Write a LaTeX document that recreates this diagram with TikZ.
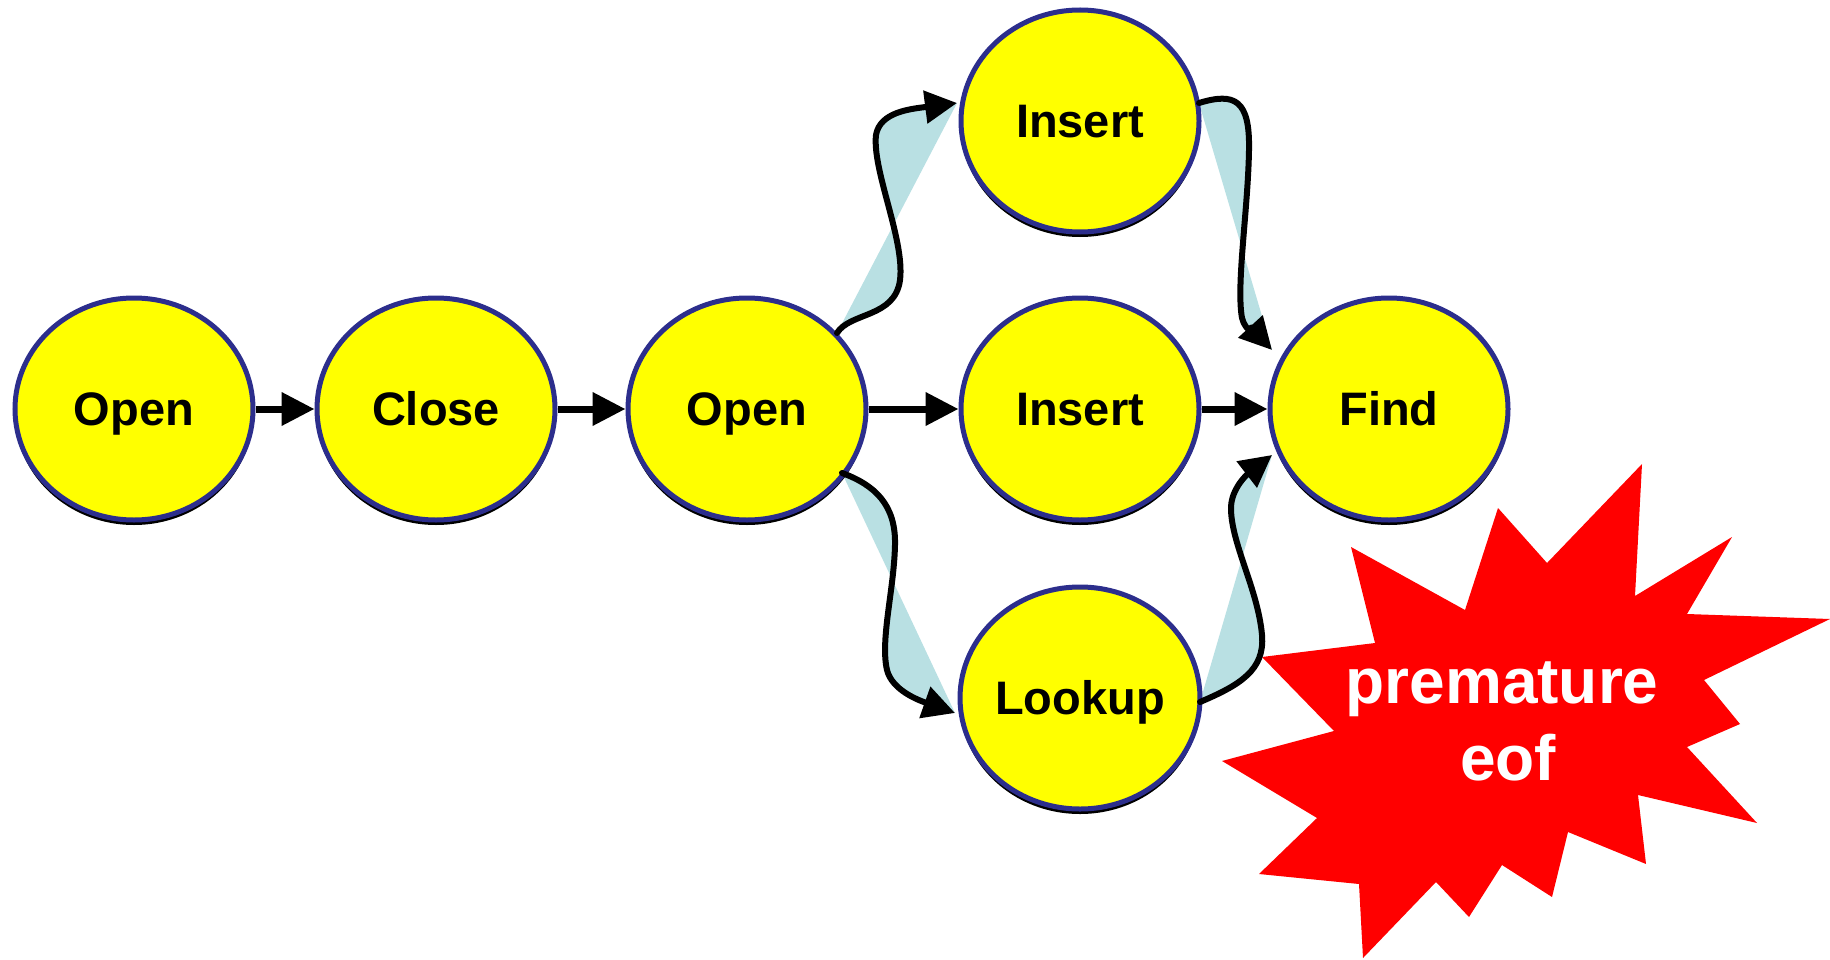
\documentclass[tikz,border=0pt]{standalone}
\usepackage{fontspec}
\setmainfont{Liberation Sans}
\usetikzlibrary{arrows.meta,shapes.geometric,shadows,backgrounds,calc}
\definecolor{ellblue}{RGB}{44,46,140}
\definecolor{stateyellow}{RGB}{255,255,0}
\definecolor{chordblue}{RGB}{185,224,227}
\definecolor{burstred}{RGB}{255,0,0}
\begin{document}
\begin{tikzpicture}[x=1pt,y=-1pt,
  state/.style={ellipse, draw=ellblue, line width=5pt, fill=stateyellow,
    minimum width=238pt, minimum height=222pt, inner sep=0pt,
    font=\fontsize{47}{50}\selectfont\bfseries, text height=33pt, text depth=0pt,
    drop shadow={shadow xshift=0pt, shadow yshift=-5pt, fill=black, opacity=1}},
  conn/.style={line width=7pt, -{Triangle[length=33pt,width=32pt]}},
  wave/.style={line width=6pt, line cap=round, -{Triangle[length=32pt,width=32pt]}},
  chord/.style={fill=chordblue}]
\useasboundingbox (0,0) rectangle (1830,960);

% states
\node[state] (o1) at (134,409) {Open};
\node[state] (cl) at (436,409) {Close};
\node[state] (o2) at (747,409) {Open};
\node[state] (i1) at (1080,121) {Insert};
\node[state] (i2) at (1080,409) {Insert};
\node[state] (lk) at (1080,698) {Lookup};
\node[state] (fd) at (1389,409) {Find};

% end points of the wavy connectors
\coordinate (s1) at ($(o2)+(90,-76)$);
\coordinate (e1) at ($(i1)+(-123,-18)$);
\coordinate (s2) at ($(i1)+(119,-18)$);
\coordinate (e2) at ($(fd)+(-117,-59)$);
\coordinate (s3) at ($(o2)+(95,64)$);
\coordinate (e3) at ($(lk)+(-125,15)$);
\coordinate (s4) at ($(lk)+(120,4)$);
\coordinate (e4) at ($(fd)+(-117,46)$);

\begin{scope}[on background layer]
  \fill[white] (0,0) rectangle (1830,960);
  \fill[burstred] (1642,464) -- (1635,596) -- (1732,537) -- (1687,614) -- (1830,619)
    -- (1704,680) -- (1740,724) -- (1687,747) -- (1757,823) -- (1638,795)
    -- (1646,864) -- (1568,832) -- (1552,897) -- (1502,865) -- (1469,917)
    -- (1436,882) -- (1363,958) -- (1359,884) -- (1259,874) -- (1317,818)
    -- (1222,761) -- (1334,731) -- (1262,657) -- (1375,643) -- (1351,547)
    -- (1465,610) -- (1498,508) -- (1547,563) -- cycle;
  \fill[chord] (s1) .. controls (850,312) and (895,318) .. (900,280)
    .. controls (905,240) and (872,170) .. (876,135)
    .. controls (880,112) and (910,109) .. (e1) -- cycle;
  \fill[chord] (s2) .. controls (1235,92) and (1250,100) .. (1249,150)
    .. controls (1248,210) and (1236,285) .. (1242,318)
    .. controls (1245,332) and (1261,338) .. (e2) -- cycle;
  \fill[chord] (s3) .. controls (875,485) and (896,505) .. (895,545)
    .. controls (894,590) and (880,640) .. (887,670)
    .. controls (892,690) and (918,700) .. (e3) -- cycle;
  \fill[chord] (s4) .. controls (1240,685) and (1265,670) .. (1262,635)
    .. controls (1258,590) and (1232,545) .. (1231,510)
    .. controls (1230,488) and (1250,472) .. (e4) -- cycle;
\end{scope}

% straight connectors
\draw[conn] (o1.east) -- (cl.west);
\draw[conn] (cl.east) -- (o2.west);
\draw[conn] (o2.east) -- (i2.west);
\draw[conn] (i2.east) -- (fd.west);

% wavy connectors
\draw[wave] (s1) .. controls (850,312) and (895,318) .. (900,280)
    .. controls (905,240) and (872,170) .. (876,135)
    .. controls (880,112) and (910,109) .. (e1);
\draw[wave] (s2) .. controls (1235,92) and (1250,100) .. (1249,150)
    .. controls (1248,210) and (1236,285) .. (1242,318)
    .. controls (1245,332) and (1261,338) .. (e2);
\draw[wave] (s3) .. controls (875,485) and (896,505) .. (895,545)
    .. controls (894,590) and (880,640) .. (887,670)
    .. controls (892,690) and (918,700) .. (e3);
\draw[wave] (s4) .. controls (1240,685) and (1265,670) .. (1262,635)
    .. controls (1258,590) and (1232,545) .. (1231,510)
    .. controls (1230,488) and (1250,472) .. (e4);

% burst label
\node[font=\fontsize{64}{77}\selectfont\bfseries, text=white, align=center, inner sep=0pt]
  (eof) at (1502,721) {premature\\\hspace*{12pt}eof};
\end{tikzpicture}
\end{document}
